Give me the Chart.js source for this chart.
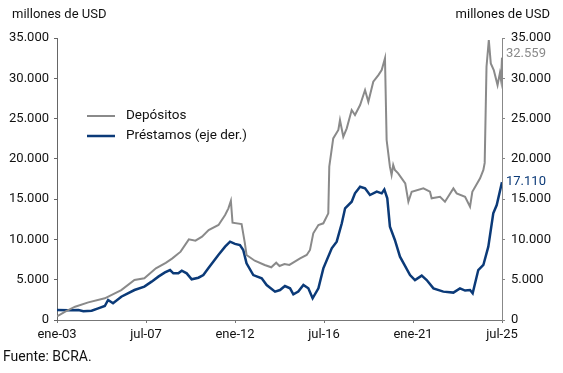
<!DOCTYPE html>
<html>
<head>
<meta charset="utf-8">
<script src="https://cdn.jsdelivr.net/npm/chart.js@4.4.1/dist/chart.umd.min.js"></script>
<style>
  body { margin: 0; background: #fff; }
  #chart { display: block; }
</style>
</head>
<body>
<canvas id="chart" width="563" height="373"></canvas>
<script>
// meses desde ene-03 (0 = ene-03, 270 = jul-25)
const tickLabels = ['ene-03', 'jul-07', 'ene-12', 'jul-16', 'ene-21', 'jul-25'];

const depMonths = [0, 5, 11, 19, 29, 39, 47, 53, 60, 66, 70, 75, 80, 84, 88, 92, 98, 102, 104, 105.5,
    106.5, 112, 114, 115, 120, 126, 130, 133, 135, 138, 141, 147.5, 151.5, 153.5, 155.5, 158.6, 161.6,
    164.6, 165.2, 167.6, 170.7, 171.7, 173.7, 175.8, 178.8, 180.8, 183.9, 186.9, 188.9, 191.9, 195, 197,
    199, 200, 202, 203, 204, 205, 207, 211.3, 213.2, 215.2, 222.3, 226.3, 227.3, 232.4, 235.4, 240.5,
    242.5, 247.6, 250.6, 252, 256.7, 258.7, 259.5, 260.6, 262, 263.2, 265, 267.3, 268.7, 269.4, 270];
const depValues = [450, 1030, 1650, 2190, 2690, 3720, 4960, 5170, 6410, 7100, 7650, 8480, 10010, 9840, 10340,
    11170, 11790, 13030, 13860, 14800, 12080, 11910, 9520, 8070, 7360, 6830, 6540, 7110, 6700, 6950, 6830,
    7650, 8070, 8690, 10760, 11790, 12000, 13240, 19030, 22540, 23580, 24820, 22750, 23790, 26060, 25440,
    26680, 28540, 27090, 29570, 30400, 31030, 32480, 22340, 19030, 18000, 19240, 18620, 18200, 16960, 14680,
    15920, 16340, 15920, 15100, 15300, 14680, 16340, 15720, 15300, 14060, 15920, 17580, 18620, 19500, 31440,
    34750, 31850, 31030, 29160, 30620, 29780, 32559];

const presMonths = [0, 7, 13, 16, 21, 25, 29, 31, 34, 39, 47, 53, 57.4, 61.5, 65.5, 68.6, 70.6, 73.6, 75.7,
    78.7, 81.7, 85.8, 88.8, 91.8, 97.9, 102, 105, 108, 111, 113, 115, 119.1, 124.2, 127.2, 132.3, 135.3,
    138.3, 141.4, 143.4, 146.4, 149.5, 152.5, 155.1, 158.6, 161.6, 166.7, 169.7, 172.8, 174.8, 178.8, 180.8,
    183.9, 186.9, 189.9, 194, 197, 198.6, 200.4, 202, 205, 208.1, 214.2, 217.2, 221.3, 224.3, 228.4, 234.4,
    240.5, 244.5, 247.6, 250.6, 252.2, 255.6, 258.7, 261.7, 264.7, 266.8, 270];
const presValues = [1240, 1200, 1240, 1080, 1150, 1450, 1740, 2480, 2070, 2890, 3720, 4140, 4760, 5380, 5900,
    6200, 5790, 5790, 6120, 5790, 5050, 5250, 5580, 6410, 8070, 9100, 9720, 9450, 9310, 8690, 7030, 5580,
    5170, 4340, 3520, 3720, 4220, 3930, 3190, 3520, 4340, 3930, 2690, 3930, 6410, 8900, 9720, 12000, 13860,
    14680, 15720, 16540, 16340, 15510, 15930, 15720, 16200, 15100, 11580, 9930, 7860, 5580, 4960, 5500, 4960,
    3930, 3520, 3400, 3930, 3650, 3720, 3310, 6200, 6830, 9100, 13240, 14270, 17110];

const GRAY = '#8a8a8a';
const BLUE = '#0b3a78';
const FONT = 'Roboto, "Liberation Sans", sans-serif';

function fmt(v) {
    return String(Math.round(v)).replace(/\B(?=(\d{3})+(?!\d))/g, '.');
}

function pts(xs, ys) {
    return xs.map((x, i) => ({ x: x, y: ys[i] }));
}

const extras = {
    id: 'extras',
    afterDraw(chart) {
        const ctx = chart.ctx;
        ctx.save();
        ctx.font = '13px ' + FONT;
        ctx.textBaseline = 'middle';
        ctx.fillStyle = '#111';
        ctx.textAlign = 'left';
        ctx.fillText('millones de USD', 12, 15);
        ctx.font = '14px ' + FONT;
        ctx.fillText('Fuente: BCRA.', 3, 357);
        ctx.font = '13px ' + FONT;
        ctx.textAlign = 'right';
        ctx.fillText('millones de USD', 550, 15);

        // leyenda
        ctx.textAlign = 'left';
        ctx.font = '13.5px ' + FONT;
        chart.data.datasets.forEach((ds, i) => {
            const y = 116 + i * 20;
            ctx.strokeStyle = ds.borderColor;
            ctx.lineWidth = ds.borderWidth;
            ctx.beginPath();
            ctx.moveTo(87, y);
            ctx.lineTo(115, y);
            ctx.stroke();
            ctx.fillStyle = '#111';
            ctx.fillText(ds.label, 126, y);
        });

        // etiquetas del último dato
        ctx.font = '13px ' + FONT;
        chart.data.datasets.forEach((ds, i) => {
            const meta = chart.getDatasetMeta(i);
            const last = meta.data[meta.data.length - 1];
            const v = ds.data[ds.data.length - 1].y;
            ctx.fillStyle = ds.borderColor;
            ctx.fillText(fmt(v), last.x + 4, last.y - (i === 0 ? 4 : 0));
        });
        ctx.restore();
    }
};

const yTicks = {
    color: '#111',
    font: { family: FONT, size: 13 },
    stepSize: 5000,
    callback: (v) => fmt(v)
};

new Chart(document.getElementById('chart').getContext('2d'), {
    type: 'line',
    data: {
        datasets: [{
            label: 'Depósitos',
            data: pts(depMonths, depValues),
            borderColor: GRAY,
            borderWidth: 2,
            yAxisID: 'y'
        }, {
            label: 'Préstamos (eje der.)',
            data: pts(presMonths, presValues),
            borderColor: BLUE,
            borderWidth: 2.5,
            yAxisID: 'y1'
        }]
    },
    options: {
        responsive: false,
        animation: false,
        devicePixelRatio: 1,
        elements: { point: { radius: 0 }, line: { tension: 0 } },
        layout: { padding: { top: 38, bottom: 23, left: 0, right: 0 } },
        plugins: { legend: { display: false }, tooltip: { enabled: false } },
        scales: {
            x: {
                type: 'linear',
                min: 0,
                max: 270,
                border: { color: '#777' },
                grid: { drawOnChartArea: false, tickLength: 3, color: '#777' },
                ticks: {
                    stepSize: 54,
                    autoSkip: false,
                    maxRotation: 0,
                    padding: 4,
                    color: '#111',
                    font: { family: FONT, size: 13 },
                    callback: (v) => tickLabels[Math.round(v / 54)]
                },
                afterFit: (s) => { s.height = 30; }
            },
            y: {
                position: 'left',
                min: 0,
                max: 35000,
                border: { color: '#666' },
                grid: { drawOnChartArea: false, tickLength: 3, color: '#666' },
                ticks: Object.assign({ padding: 5 }, yTicks),
                afterFit: (s) => { s.width = 57; }
            },
            y1: {
                position: 'right',
                min: 0,
                max: 35000,
                border: { color: '#888' },
                grid: { drawOnChartArea: false, tickLength: 3, color: '#888' },
                ticks: Object.assign({ padding: 6 }, yTicks),
                afterFit: (s) => { s.width = 61; }
            }
        }
    },
    plugins: [extras]
});
</script>
</body>
</html>
